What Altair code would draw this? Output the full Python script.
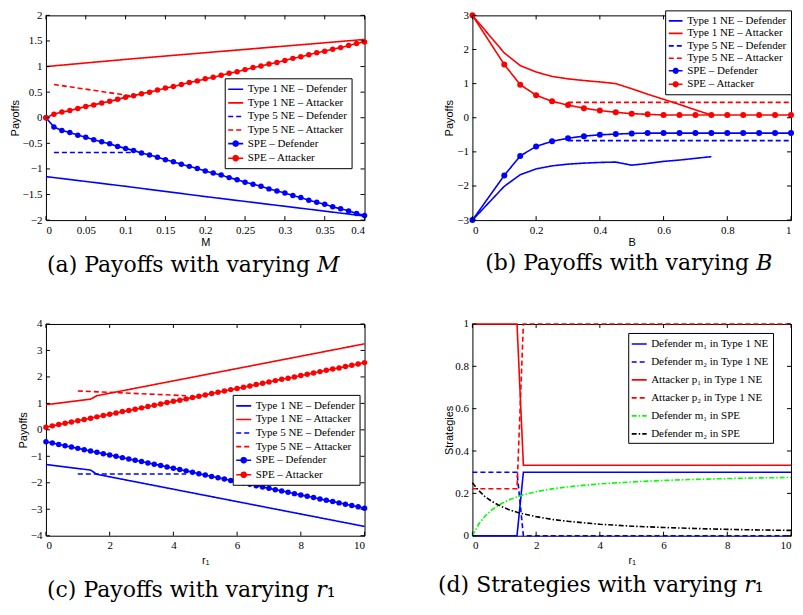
import altair as alt
import pandas as pd

# ---------------- (a) Payoffs with varying M ----------------
A_M = [0.00, 0.01, 0.02, 0.03, 0.04, 0.05, 0.06, 0.07, 0.08, 0.09,
       0.10, 0.11, 0.12, 0.13, 0.14, 0.15, 0.16, 0.17, 0.18, 0.19,
       0.20, 0.21, 0.22, 0.23, 0.24, 0.25, 0.26, 0.27, 0.28, 0.29,
       0.30, 0.31, 0.32, 0.33, 0.34, 0.35, 0.36, 0.37, 0.38, 0.39, 0.40]
A_SPE_DEF = [0.00, -0.18, -0.25, -0.29, -0.34, -0.38, -0.43, -0.47, -0.51, -0.56,
             -0.60, -0.64, -0.69, -0.73, -0.77, -0.82, -0.86, -0.91, -0.95, -0.99,
             -1.04, -1.08, -1.12, -1.17, -1.21, -1.26, -1.30, -1.34, -1.39, -1.43,
             -1.47, -1.52, -1.56, -1.61, -1.65, -1.69, -1.74, -1.78, -1.82, -1.87, -1.91]
A_SPE_ATT = [0.00, 0.07, 0.11, 0.14, 0.18, 0.22, 0.25, 0.29, 0.32, 0.36,
             0.40, 0.43, 0.47, 0.50, 0.54, 0.58, 0.61, 0.65, 0.69, 0.72,
             0.76, 0.79, 0.83, 0.87, 0.90, 0.94, 0.98, 1.01, 1.05, 1.08,
             1.12, 1.16, 1.19, 1.23, 1.27, 1.30, 1.34, 1.37, 1.41, 1.45, 1.48]
A_T1_M = [0.0, 0.1, 0.2, 0.3, 0.4]
A_T1_DEF = [-1.15, -1.34, -1.54, -1.73, -1.92]
A_T1_ATT = [1.00, 1.14, 1.27, 1.40, 1.53]
A_T5_M = [0.01, 0.11]
A_T5_DEF = [-0.68, -0.68]
A_T5_ATT = [0.65, 0.42]

# ---------------- (b) Payoffs with varying B ----------------
B_B = [0.00, 0.10, 0.15, 0.20, 0.25, 0.30, 0.35, 0.40, 0.45, 0.50,
       0.55, 0.60, 0.65, 0.70, 0.75, 0.80, 0.85, 0.90, 0.95, 1.00]
B_SPE_DEF = [-3.00, -1.69, -1.12, -0.84, -0.69, -0.60, -0.54, -0.50, -0.48, -0.46,
             -0.45, -0.45, -0.45, -0.45, -0.45, -0.45, -0.45, -0.45, -0.45, -0.45]
B_SPE_ATT = [3.00, 1.56, 0.97, 0.66, 0.48, 0.37, 0.28, 0.21, 0.16, 0.12,
             0.10, 0.08, 0.08, 0.08, 0.08, 0.08, 0.08, 0.08, 0.08, 0.08]
B_T1_B = [0.00, 0.10, 0.15, 0.20, 0.25, 0.30, 0.35, 0.40, 0.45, 0.50, 0.55, 0.60, 0.65, 0.70, 0.75]
B_T1_DEF = [-3.00, -2.01, -1.67, -1.50, -1.41, -1.36, -1.33, -1.31, -1.30, -1.39, -1.34, -1.28, -1.24, -1.19, -1.14]
B_T1_ATT = [3.00, 1.90, 1.53, 1.34, 1.21, 1.14, 1.09, 1.05, 1.00, 0.85, 0.69, 0.54, 0.39, 0.23, 0.08]
B_T5_B = [0.30, 1.00]
B_T5_DEF = [-0.67, -0.67]
B_T5_ATT = [0.45, 0.45]

# ---------------- (c) Payoffs with varying r1 ----------------
C_R = [0.0, 0.2, 0.4, 0.6, 0.8, 1.0, 1.2, 1.4, 1.6, 1.8,
       2.0, 2.2, 2.4, 2.6, 2.8, 3.0, 3.2, 3.4, 3.6, 3.8,
       4.0, 4.2, 4.4, 4.6, 4.8, 5.0, 5.2, 5.4, 5.6, 5.8,
       6.0, 6.2, 6.4, 6.6, 6.8, 7.0, 7.2, 7.4, 7.6, 7.8,
       8.0, 8.2, 8.4, 8.6, 8.8, 9.0, 9.2, 9.4, 9.6, 9.8, 10.0]
C_SPE_DEF = [-0.45, -0.50, -0.55, -0.60, -0.65, -0.70, -0.75, -0.80, -0.85, -0.90,
             -0.95, -1.00, -1.05, -1.10, -1.15, -1.20, -1.25, -1.30, -1.35, -1.40,
             -1.45, -1.50, -1.55, -1.60, -1.66, -1.71, -1.76, -1.81, -1.86, -1.91,
             -1.96, -2.01, -2.06, -2.11, -2.16, -2.21, -2.26, -2.31, -2.36, -2.41,
             -2.46, -2.51, -2.56, -2.61, -2.66, -2.71, -2.76, -2.81, -2.86, -2.91, -2.96]
C_SPE_ATT = [0.10, 0.15, 0.20, 0.25, 0.30, 0.34, 0.39, 0.44, 0.49, 0.54,
             0.59, 0.64, 0.69, 0.73, 0.78, 0.83, 0.88, 0.93, 0.98, 1.03,
             1.08, 1.12, 1.17, 1.22, 1.27, 1.32, 1.37, 1.42, 1.47, 1.52,
             1.56, 1.61, 1.66, 1.71, 1.76, 1.81, 1.86, 1.91, 1.95, 2.00,
             2.05, 2.10, 2.15, 2.20, 2.25, 2.30, 2.34, 2.39, 2.44, 2.49, 2.54]
C_T1_R = [0.0, 1.4, 1.6, 10.0]
C_T1_DEF = [-1.31, -1.52, -1.68, -3.65]
C_T1_ATT = [0.95, 1.16, 1.29, 3.25]
C_T5_R = [1.0, 4.4]
C_T5_DEF = [-1.67, -1.67]
C_T5_ATT = [1.47, 1.29]

# ---------------- (d) Strategies with varying r1 ----------------
D_T1_R = [0.0, 1.4, 1.6, 10.0]
D_M1_T1 = [0.0, 0.0, 0.3, 0.3]
D_M2_T1 = [0.3, 0.3, 0.0, 0.0]
D_P1_T1 = [1.0, 1.0, 0.333, 0.333]
D_P2_T1 = [0.222, 0.222, 1.0, 1.0]
D_SPE_R = [0.0, 0.2, 0.4, 0.6, 0.8, 1.0, 1.2, 1.4, 1.6, 2.0, 2.5, 3.0, 4.0, 5.0, 6.0, 7.0, 8.0, 9.0, 10.0]
D_M1_SPE = [0.0, 0.055, 0.093, 0.121, 0.142, 0.159, 0.172, 0.183, 0.193, 0.208, 0.221, 0.231,
            0.245, 0.254, 0.261, 0.266, 0.270, 0.273, 0.275]
D_M2_SPE = [0.25, 0.213, 0.184, 0.163, 0.146, 0.132, 0.120, 0.111, 0.103, 0.090, 0.077, 0.068,
            0.054, 0.045, 0.039, 0.034, 0.030, 0.027, 0.025]

PAY_SERIES = ["Type 1 NE – Defender", "Type 1 NE – Attacker", "Type 5 NE – Defender",
              "Type 5 NE – Attacker", "SPE – Defender", "SPE – Attacker"]
STRAT_SERIES = ["Defender m₁ in Type 1 NE", "Defender m₂ in Type 1 NE", "Attacker p₁ in Type 1 NE",
                "Attacker p₂ in Type 1 NE", "Defender m₁ in SPE", "Defender m₂ in SPE"]

BLUE, RED, GREEN, BLACK = "#0000ff", "#ff0000", "#00ff00", "#000000"
SOLID, DASH, DASHDOT = [1, 0], [5, 3], [5, 2, 1.5, 2]
SYM_LINE = "M-1.25,0H1.25"
SYM_SPE = "M-1.25,0H1.25M-0.42,0A0.42,0.42,0,1,1,0.42,0A0.42,0.42,0,1,1,-0.42,0Z"

W = 319


def long_df(parts):
    rows = []
    for name, xs, ys in parts:
        for x, y in zip(xs, ys):
            rows.append({"x": x, "y": y, "s": name})
    return pd.DataFrame(rows)


def panel(series, colors, dashes, shapes, line_parts, point_parts, H, xdom, ydom,
          xticks, yticks, xtitle, ytitle, xtp, ytp, legend_xy, sym_size, row_pad,
          marker_size, caption, cap_dx, cap_offset):
    xs = alt.Scale(domain=xdom, nice=False, zero=False)
    ys = alt.Scale(domain=ydom, nice=False, zero=False)
    xaxis = alt.Axis(values=xticks, format="~r", title=xtitle, titlePadding=xtp)
    yaxis = alt.Axis(values=yticks, format="~r", title=ytitle, titlePadding=ytp)

    def X():
        return alt.X("x:Q", scale=xs, axis=xaxis)

    def Y():
        return alt.Y("y:Q", scale=ys, axis=yaxis)

    cs = alt.Scale(domain=series, range=colors)
    ds = alt.Scale(domain=series, range=dashes)
    ss = alt.Scale(domain=series, range=shapes)
    ldf = long_df(line_parts)

    leg = alt.Legend(title=None, orient="none", legendX=legend_xy[0], legendY=legend_xy[1],
                     strokeColor="black", fillColor="white", padding=4, cornerRadius=0,
                     symbolSize=sym_size, symbolStrokeWidth=1.6, rowPadding=row_pad,
                     labelFont="Liberation Serif", labelFontSize=11, labelColor="black",
                     labelOffset=5, labelLimit=400)
    # legend-only layer (no rows drawn), carrying the legend definition
    legend_layer = alt.Chart(ldf).transform_filter("false").mark_point(
        filled=True, opacity=1, strokeWidth=1.6).encode(
        color=alt.Color("s:N", scale=cs, legend=leg),
        stroke=alt.Stroke("s:N", scale=cs, legend=leg),
        strokeDash=alt.StrokeDash("s:N", scale=ds, legend=leg),
        shape=alt.Shape("s:N", scale=ss, legend=leg),
    )
    layers = [legend_layer]

    lines = alt.Chart(ldf).mark_line(strokeWidth=1.6).encode(
        x=X(), y=Y(),
        color=alt.Color("s:N", scale=cs),
        strokeDash=alt.StrokeDash("s:N", scale=ds),
    )
    layers.append(lines)
    if point_parts:
        pdf = long_df(point_parts)
        pts = alt.Chart(pdf).mark_point(filled=True, size=marker_size, opacity=1, shape="circle").encode(
            x=X(), y=Y(), color=alt.Color("s:N", scale=cs))
        layers.append(pts)

    xt = alt.Chart(pd.DataFrame({"x": xticks}))
    yt = alt.Chart(pd.DataFrame({"y": yticks}))
    tk = dict(color="black", strokeWidth=1)
    layers += [
        xt.mark_rule(**tk).encode(x=X(), y=alt.value(H), y2=alt.value(H - 4)),
        xt.mark_rule(**tk).encode(x=X(), y=alt.value(0), y2=alt.value(4)),
        yt.mark_rule(**tk).encode(y=Y(), x=alt.value(0), x2=alt.value(4)),
        yt.mark_rule(**tk).encode(y=Y(), x=alt.value(W), x2=alt.value(W - 4)),
    ]
    return alt.layer(*layers).properties(
        width=W, height=H,
        title=alt.TitleParams(text=caption, orient="bottom", anchor="middle", frame="group",
                              font="DejaVu Serif", fontSize=22, fontWeight="normal",
                              color="black", dx=cap_dx, offset=cap_offset),
    )


PAY_COLORS = [BLUE, RED, BLUE, RED, BLUE, RED]
PAY_DASHES = [SOLID, SOLID, DASH, DASH, SOLID, SOLID]
PAY_SHAPES = [SYM_LINE, SYM_LINE, SYM_LINE, SYM_LINE, SYM_SPE, SYM_SPE]

H1, H2 = 205, 212

pa = panel(PAY_SERIES, PAY_COLORS, PAY_DASHES, PAY_SHAPES,
           [(PAY_SERIES[0], A_T1_M, A_T1_DEF), (PAY_SERIES[1], A_T1_M, A_T1_ATT),
            (PAY_SERIES[2], A_T5_M, A_T5_DEF), (PAY_SERIES[3], A_T5_M, A_T5_ATT),
            (PAY_SERIES[4], A_M, A_SPE_DEF), (PAY_SERIES[5], A_M, A_SPE_ATT)],
           [(PAY_SERIES[4], A_M, A_SPE_DEF), (PAY_SERIES[5], A_M, A_SPE_ATT)],
           H1, [0, 0.4], [-2, 2],
           [0, 0.05, 0.1, 0.15, 0.2, 0.25, 0.3, 0.35, 0.4],
           [-2, -1.5, -1, -0.5, 0, 0.5, 1, 1.5, 2],
           "M", "Payoffs", 1, 2, (179, 63), 144, 1.6, 30,
           "(a) Payoffs with varying 𝑀", -12, 8)

pb = panel(PAY_SERIES, PAY_COLORS, PAY_DASHES, PAY_SHAPES,
           [(PAY_SERIES[0], B_T1_B, B_T1_DEF), (PAY_SERIES[1], B_T1_B, B_T1_ATT),
            (PAY_SERIES[2], B_T5_B, B_T5_DEF), (PAY_SERIES[3], B_T5_B, B_T5_ATT),
            (PAY_SERIES[4], B_B, B_SPE_DEF), (PAY_SERIES[5], B_B, B_SPE_ATT)],
           [(PAY_SERIES[4], B_B, B_SPE_DEF), (PAY_SERIES[5], B_B, B_SPE_ATT)],
           H1, [0, 1], [-3, 3],
           [0, 0.2, 0.4, 0.6, 0.8, 1],
           [-3, -2, -1, 0, 1, 2, 3],
           "B", "Payoffs", 1, 2, (193, -5), 121, 0.5, 36,
           "(b) Payoffs with varying 𝐵", -3, 6)

pc = panel(PAY_SERIES, PAY_COLORS, PAY_DASHES, PAY_SHAPES,
           [(PAY_SERIES[0], C_T1_R, C_T1_DEF), (PAY_SERIES[1], C_T1_R, C_T1_ATT),
            (PAY_SERIES[2], C_T5_R, C_T5_DEF), (PAY_SERIES[3], C_T5_R, C_T5_ATT),
            (PAY_SERIES[4], C_R, C_SPE_DEF), (PAY_SERIES[5], C_R, C_SPE_ATT)],
           [(PAY_SERIES[4], C_R, C_SPE_DEF), (PAY_SERIES[5], C_R, C_SPE_ATT)],
           H2, [0, 10], [-4, 4],
           [0, 2, 4, 6, 8, 10],
           [-4, -3, -2, -1, 0, 1, 2, 3, 4],
           "r₁", "Payoffs", 4, 2, (187, 71), 144, 1.6, 30,
           "(c) Payoffs with varying 𝑟₁", -14, 14)

pd_ = panel(STRAT_SERIES, [BLUE, BLUE, RED, RED, GREEN, BLACK],
            [SOLID, DASH, SOLID, DASH, DASHDOT, DASHDOT],
            [SYM_LINE] * 6,
            [(STRAT_SERIES[0], D_T1_R, D_M1_T1), (STRAT_SERIES[1], D_T1_R, D_M2_T1),
             (STRAT_SERIES[2], D_T1_R, D_P1_T1), (STRAT_SERIES[3], D_T1_R, D_P2_T1),
             (STRAT_SERIES[4], D_SPE_R, D_M1_SPE), (STRAT_SERIES[5], D_SPE_R, D_M2_SPE)],
            None,
            H2, [0, 10], [0, 1],
            [0, 2, 4, 6, 8, 10],
            [0, 0.2, 0.4, 0.6, 0.8, 1],
            "r₁", "Strategies", 4, 0, (156, 9), 144, 6, 30,
            "(d) Strategies with varying 𝑟₁", -31, 9)

RES = dict(color="independent", stroke="independent", strokeDash="independent", shape="independent")

chart = alt.concat(
    pa, pb, pc, pd_, columns=2, bounds="flush",
    spacing=alt.RowColnumber(row=104, column=108),
).resolve_scale(**RES).properties(
    padding=0
).configure_view(stroke="black", strokeWidth=1).configure_axis(
    grid=False, ticks=False, domain=False, labelPadding=4,
    labelFont="Liberation Serif", labelFontSize=11, labelColor="black",
    titleFont="Liberation Sans", titleFontSize=11, titleFontWeight="normal", titleColor="black",
)

chart.save("out.html", embed_options={"renderer": "svg", "actions": False})
